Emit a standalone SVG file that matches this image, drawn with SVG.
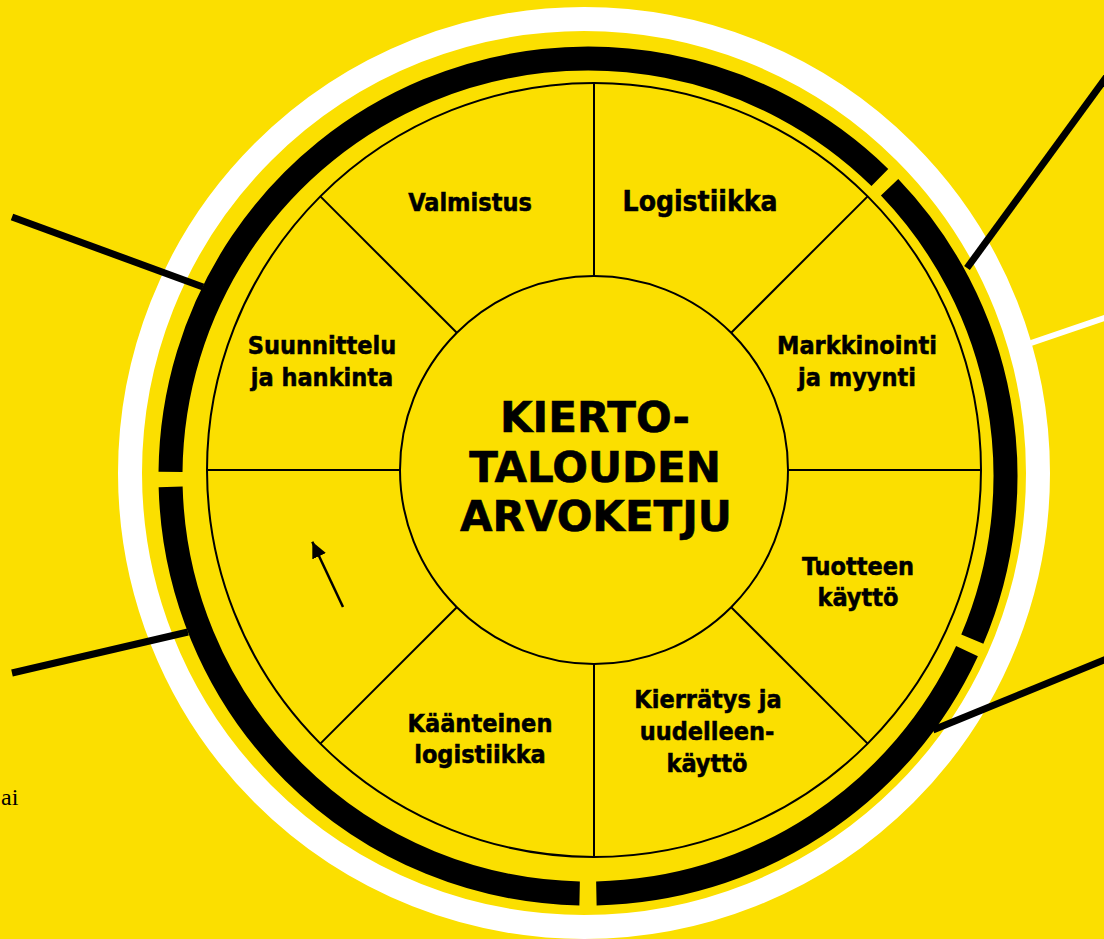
<svg xmlns="http://www.w3.org/2000/svg" width="1104" height="939" viewBox="0 0 1104 939">
<defs>
<style>
.bg{fill:#FBDF00}
.thin{fill:none;stroke:#000;stroke-width:2}
.spoke{stroke:#000;stroke-width:2}
.ring{fill:none;stroke:#000;stroke-width:24;stroke-linecap:butt}
.wring{fill:none;stroke:#fff;stroke-width:24}
.ray{stroke:#000;stroke-width:7;stroke-linecap:butt}
.wray{stroke:#fff;stroke-width:6;stroke-linecap:butt}
.lbl{font-family:'DejaVu Sans Condensed','DejaVu Sans',sans-serif;font-stretch:condensed;font-weight:bold;font-size:25px;fill:#000;stroke:#000;stroke-width:0.5;text-anchor:middle}
.title{font-family:'DejaVu Sans',sans-serif;font-weight:bold;font-size:42px;fill:#000;stroke:#000;stroke-width:0.6;text-anchor:middle}
.ai{font-family:'Liberation Serif',serif;font-size:24px;fill:#000}
</style>
<marker id="ah" markerUnits="userSpaceOnUse" markerWidth="18" markerHeight="16" refX="16" refY="7.5" orient="auto">
<path d="M0,0 L16,7.5 L0,15 Z" fill="#000"/>
</marker>
</defs>
<rect class="bg" x="0" y="0" width="1104" height="939"/>
<circle class="wring" cx="584" cy="473" r="454"/>
<g id="outer-ring">
<path class="ring" d="M889.59,187.29 A417.5,417.5 0 0 1 972.31,639.13"/>
<path class="ring" d="M967.00,651.12 A417.5,417.5 0 0 1 596.38,893.42"/>
<path class="ring" d="M579.62,893.42 A417.5,417.5 0 0 1 170.64,486.93"/>
<path class="ring" d="M170.52,471.99 A417.5,417.5 0 0 1 879.87,177.48"/>
</g>
<g id="connectors">
<line class="ray" x1="12" y1="217" x2="203" y2="287"/>
<line class="ray" x1="12" y1="673" x2="188" y2="632"/>
<line class="ray" x1="1110" y1="72" x2="967" y2="268"/>
<line class="wray" x1="1110" y1="316" x2="1031" y2="343"/>
<line class="ray" x1="1110" y1="657.5" x2="933" y2="730"/>
<line class="spoke" x1="788" y1="470" x2="981" y2="470"/>
<line class="spoke" x1="731.18" y1="607.18" x2="867.65" y2="743.65"/>
<line class="spoke" x1="594" y1="664" x2="594" y2="857"/>
<line class="spoke" x1="456.82" y1="607.18" x2="320.35" y2="743.65"/>
<line class="spoke" x1="400" y1="470" x2="207" y2="470"/>
<line class="spoke" x1="456.82" y1="332.82" x2="320.35" y2="196.35"/>
<line class="spoke" x1="594" y1="276" x2="594" y2="83"/>
<line class="spoke" x1="731.18" y1="332.82" x2="867.65" y2="196.35"/>
<line x1="343" y1="607" x2="312.3" y2="541.7" stroke="#000" stroke-width="2.5" marker-end="url(#ah)"/>
</g>
<circle class="thin" cx="594" cy="470" r="387"/>
<g id="hub">
<circle class="thin" cx="594" cy="470" r="194"/>
<text class="title" x="595" y="432">KIERTO-</text>
<text class="title" x="595" y="482">TALOUDEN</text>
<text class="title" x="596" y="531">ARVOKETJU</text>
</g>
<g id="valmistus"><text class="lbl" x="470" y="211">Valmistus</text></g>
<g id="logistiikka"><text class="lbl" x="700" y="211" style="font-size:28px">Logistiikka</text></g>
<g id="markkinointi"><text class="lbl" x="857" y="354">Markkinointi</text><text class="lbl" x="857" y="386">ja myynti</text></g>
<g id="tuotteen-kaytto"><text class="lbl" x="858" y="575">Tuotteen</text><text class="lbl" x="858" y="606">käyttö</text></g>
<g id="kierratys"><text class="lbl" x="708" y="708">Kierrätys ja</text><text class="lbl" x="707" y="740">uudelleen-</text><text class="lbl" x="707" y="772">käyttö</text></g>
<g id="kaanteinen"><text class="lbl" x="480" y="732">Käänteinen</text><text class="lbl" x="480" y="763">logistiikka</text></g>
<g id="suunnittelu"><text class="lbl" x="322" y="354">Suunnittelu</text><text class="lbl" x="322" y="386">ja hankinta</text></g>
<text class="ai" x="1" y="805">ai</text>
</svg>
